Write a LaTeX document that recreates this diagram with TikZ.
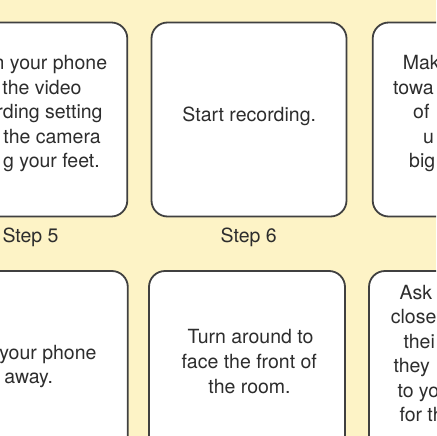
\documentclass[tikz,border=0pt]{standalone}
\usepackage{fontspec}
\setmainfont{TeX Gyre Heros}
\definecolor{bg}{RGB}{253,243,198}
\definecolor{cardline}{RGB}{64,64,64}
\definecolor{ink}{RGB}{45,45,45}
\begin{document}
\begin{tikzpicture}[x=1pt,y=-1pt,
  card/.style={rectangle, draw=cardline, line width=1.8pt, fill=white,
    rounded corners=16pt, minimum width=195pt, minimum height=194pt, inner sep=0pt},
  txt/.style={inner sep=0pt, text=ink, font=\fontsize{19.5}{24.5}\selectfont},
  lbl/.style={txt, anchor=base}]
\useasboundingbox (0,0) rectangle (436,436);
\clip (0,0) rectangle (436,436);
\fill[bg] (0,0) rectangle (436,436);
% top row cards
\node[card] (c5) at (29.8,119.5) {};
\node[card] (c6) at (249,119.5) {};
\node[card] (c7) at (470.2,119.5) {};
% bottom row cards
\node[card, minimum width=196pt, minimum height=195pt] (d1) at (29.8,368.5) {};
\node[card, minimum width=196pt, minimum height=195pt] (d2) at (247,368.5) {};
\node[card, minimum width=196pt, minimum height=195pt] (d3) at (467,368.5) {};
% card step 5
\node[txt, anchor=base east] (a1) at (107.3,70) {n your phone};
\node[txt, anchor=base east] (a2) at (81.7,94.3) {the video};
\node[txt, anchor=base east] (a3) at (102.7,118.8) {rding setting};
\node[txt, anchor=base east] (a4) at (101,143.2) {the camera};
\node[txt, anchor=base east] (a5) at (100,167.5) {g your feet.};
% card step 6
\node[lbl] (b1) at (249.2,121.7) {Start recording.};
% card step 7
\node[txt, anchor=base west] (e1) at (402.7,69.5) {Mak};
\node[txt, anchor=base west] (e2) at (393,94) {towa};
\node[txt, anchor=base west] (e3) at (413,118.5) {of};
\node[txt, anchor=base west] (e4) at (423,143) {u};
\node[txt, anchor=base west] (e5) at (409,167.5) {big};
% step labels
\node[lbl] (s5) at (30.5,242.3) {Step 5};
\node[lbl] (s6) at (248.7,242.3) {Step 6};
% bottom left card
\node[txt, anchor=base east] (f1) at (96.7,359.5) {your phone};
\node[lbl] (f2) at (28.7,383.5) {away.};
% bottom middle card
\node[lbl] (g1) at (250.5,343.3) {Turn around to};
\node[lbl] (g2) at (249.3,368.3) {face the front of};
\node[lbl] (g3) at (249.5,393.3) {the room.};
% bottom right card
\node[txt, anchor=base west] (h1) at (399.3,299.3) {Ask};
\node[txt, anchor=base west] (h2) at (390.7,323.8) {close};
\node[txt, anchor=base west] (h3) at (403.3,348.3) {thei};
\node[txt, anchor=base west] (h4) at (393.3,372.8) {they};
\node[txt, anchor=base west] (h5) at (397.3,397.3) {to yo};
\node[txt, anchor=base west] (h6) at (399.3,421.8) {for th};
\end{tikzpicture}
\end{document}
